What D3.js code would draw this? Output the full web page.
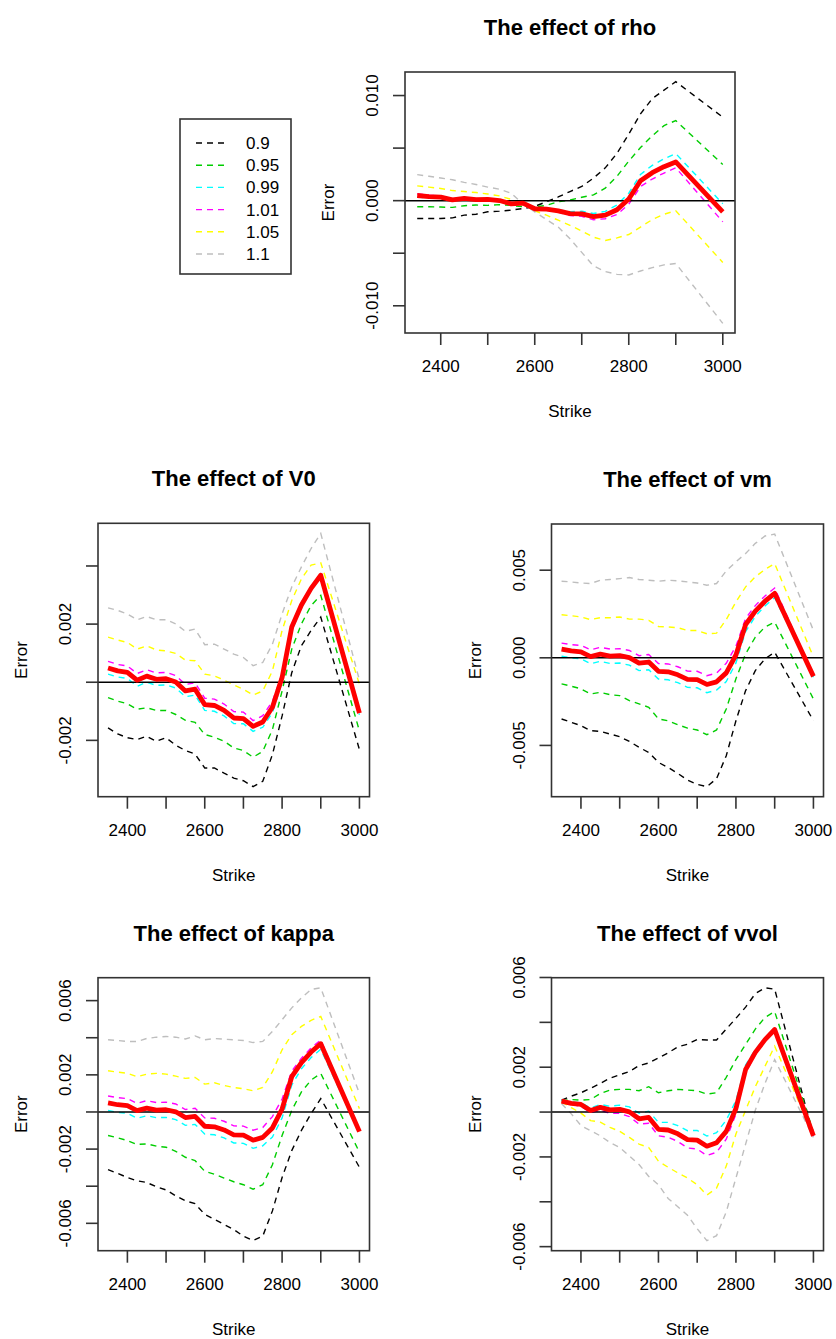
<!DOCTYPE html>
<html>
<head>
<meta charset="utf-8">
<script src="https://cdn.jsdelivr.net/npm/d3@7"></script>
<style>
  html, body { margin: 0; padding: 0; background: #ffffff; }
  svg { display: block; }
  text { font-family: "Liberation Sans", Arial, Helvetica, sans-serif; fill: #000; }
</style>
</head>
<body>
<svg id="chart" width="836" height="1339"></svg>
<script>
// Strike grid shared by every panel
const strikes = [2350, 2375, 2400, 2425, 2450, 2475, 2500, 2525, 2550, 2575, 2600, 2625,
                 2650, 2675, 2700, 2725, 2750, 2775, 2800, 2825, 2850, 2875, 2900, 3000];

// Multipliers applied to each parameter (legend entries)
const factors = ["0.9", "0.95", "0.99", "1.01", "1.05", "1.1"];
const factorColors = ["#000000", "#00CD00", "#00FFFF", "#FF00FF", "#FFFF00", "#BEBEBE"];

// Pricing error (in units of 1e-3) with unperturbed parameters
const baseError = [0.49, 0.39, 0.34, 0.07, 0.21, 0.10, 0.12, 0.01, -0.30, -0.24, -0.77, -0.80,
                   -0.97, -1.23, -1.25, -1.52, -1.37, -0.86, 0.16, 1.90, 2.66, 3.23, 3.68, -1.06];

// Errors (1e-3) when rho is scaled by each factor
const rhoErrors = [
  [-1.70, -1.70, -1.70, -1.64, -1.38, -1.29, -1.06, -1.00, -0.90, -0.75, -0.55, -0.10, 0.35, 0.87, 1.35, 2.15, 3.12, 4.50, 6.33, 8.26, 9.71, 10.51, 11.32, 7.94],
  [-0.58, -0.58, -0.61, -0.64, -0.48, -0.42, -0.45, -0.38, -0.45, -0.58, -0.60, -0.45, -0.10, 0.06, 0.32, 0.55, 1.19, 2.32, 3.76, 5.05, 6.17, 7.14, 7.62, 3.44],
  [0.34, 0.25, 0.22, -0.04, 0.12, 0.02, 0.06, -0.04, -0.33, -0.26, -0.77, -0.74, -0.85, -1.05, -1.01, -1.22, -1.02, -0.41, 0.71, 2.50, 3.36, 3.98, 4.48, -0.30],
  [0.64, 0.53, 0.46, 0.18, 0.30, 0.18, 0.18, 0.06, -0.27, -0.22, -0.77, -0.86, -1.09, -1.41, -1.49, -1.82, -1.72, -1.31, -0.34, 1.35, 2.06, 2.63, 3.13, -2.01],
  [1.41, 1.29, 1.16, 0.96, 0.87, 0.77, 0.64, 0.45, 0.13, -0.32, -0.96, -1.38, -1.86, -2.35, -2.89, -3.47, -3.79, -3.54, -3.22, -2.51, -1.80, -1.29, -0.96, -5.88],
  [2.48, 2.32, 2.15, 1.99, 1.74, 1.54, 1.29, 1.09, 0.71, -0.32, -1.06, -1.80, -2.51, -3.63, -4.92, -6.21, -6.75, -7.01, -7.07, -6.69, -6.37, -6.11, -5.98, -11.67]
];

// Errors (1e-3) when V0 is scaled by each factor
const v0Errors = [
  [-1.57, -1.78, -1.91, -1.97, -1.86, -2.03, -1.91, -2.17, -2.35, -2.47, -2.95, -2.95, -3.13, -3.30, -3.39, -3.59, -3.41, -2.49, -1.16, 0.33, 1.26, 1.78, 2.24, -2.32],
  [-0.53, -0.65, -0.74, -0.93, -0.88, -0.97, -0.97, -1.11, -1.31, -1.38, -1.80, -1.89, -2.03, -2.26, -2.35, -2.58, -2.38, -1.63, -0.30, 1.14, 2.01, 2.64, 2.99, -1.68],
  [0.28, 0.18, 0.13, -0.14, 0.00, -0.11, -0.09, -0.20, -0.50, -0.44, -0.97, -1.00, -1.16, -1.42, -1.43, -1.69, -1.55, -1.05, 0.00, 1.78, 2.57, 3.16, 3.62, -1.12],
  [0.72, 0.61, 0.56, 0.30, 0.43, 0.32, 0.34, 0.23, -0.08, -0.02, -0.55, -0.58, -0.75, -1.01, -1.03, -1.32, -1.15, -0.66, 0.30, 2.00, 2.74, 3.29, 3.72, -1.00],
  [1.55, 1.45, 1.37, 1.14, 1.25, 1.11, 1.08, 0.99, 0.76, 0.74, 0.28, 0.22, 0.07, -0.09, -0.24, -0.44, -0.30, 0.39, 1.78, 2.81, 3.56, 4.03, 4.11, -0.07],
  [2.56, 2.47, 2.35, 2.15, 2.26, 2.15, 2.15, 2.01, 1.75, 1.83, 1.29, 1.31, 1.14, 0.97, 0.85, 0.57, 0.68, 1.31, 2.35, 3.28, 3.97, 4.60, 5.12, 0.07]
];

// Errors (1e-3) when vm is scaled by each factor
const vmErrors = [
  [-3.49, -3.68, -3.87, -4.16, -4.20, -4.35, -4.50, -4.77, -5.11, -5.40, -5.97, -6.26, -6.60, -6.98, -7.22, -7.35, -6.90, -5.59, -3.59, -1.87, -0.73, -0.06, 0.32, -3.59],
  [-1.49, -1.62, -1.77, -2.06, -1.97, -2.10, -2.16, -2.44, -2.63, -2.82, -3.49, -3.59, -3.82, -4.01, -4.12, -4.39, -4.12, -2.92, -1.20, 0.23, 1.18, 1.76, 2.04, -2.35],
  [0.09, -0.01, -0.06, -0.34, -0.20, -0.32, -0.30, -0.42, -0.73, -0.68, -1.21, -1.25, -1.42, -1.69, -1.71, -1.99, -1.84, -1.36, -0.29, 1.50, 2.36, 2.96, 3.43, -1.11],
  [0.84, 0.75, 0.71, 0.45, 0.60, 0.50, 0.52, 0.42, 0.12, 0.19, -0.33, -0.35, -0.51, -0.76, -0.77, -1.02, -0.87, -0.31, 0.66, 2.25, 2.98, 3.53, 3.98, -1.01],
  [2.46, 2.40, 2.33, 2.18, 2.29, 2.29, 2.33, 2.21, 2.21, 2.14, 1.79, 1.76, 1.72, 1.56, 1.56, 1.37, 1.41, 2.18, 3.19, 4.05, 4.62, 5.04, 5.38, 0.04],
  [4.37, 4.33, 4.27, 4.24, 4.43, 4.47, 4.52, 4.58, 4.47, 4.43, 4.37, 4.43, 4.39, 4.33, 4.27, 4.14, 4.24, 4.96, 5.48, 5.95, 6.53, 6.95, 7.06, 1.56]
];

// Errors (1e-3) when kappa is scaled by each factor
const kappaErrors = [
  [-3.11, -3.31, -3.53, -3.71, -3.80, -4.03, -4.20, -4.52, -4.79, -4.94, -5.52, -5.79, -6.06, -6.33, -6.69, -6.93, -6.69, -5.33, -3.53, -2.08, -0.99, -0.09, 0.72, -2.98],
  [-1.27, -1.39, -1.54, -1.75, -1.72, -1.84, -1.90, -2.12, -2.44, -2.62, -3.20, -3.35, -3.56, -3.76, -3.92, -4.16, -3.92, -2.84, -1.27, 0.09, 1.08, 1.72, 2.08, -2.17],
  [0.08, -0.02, -0.07, -0.34, -0.20, -0.31, -0.29, -0.41, -0.72, -0.67, -1.19, -1.23, -1.40, -1.67, -1.69, -1.96, -1.82, -1.35, -0.32, 1.45, 2.33, 2.93, 3.38, -1.12],
  [0.86, 0.77, 0.72, 0.46, 0.61, 0.51, 0.53, 0.43, 0.13, 0.20, -0.32, -0.34, -0.50, -0.75, -0.76, -0.98, -0.84, -0.25, 0.70, 2.20, 2.90, 3.45, 3.88, -1.00],
  [2.22, 2.15, 2.08, 1.90, 2.04, 2.08, 2.04, 1.93, 1.81, 1.86, 1.50, 1.57, 1.43, 1.32, 1.25, 1.14, 1.32, 2.17, 3.35, 4.16, 4.61, 4.94, 5.15, 0.18],
  [3.89, 3.85, 3.80, 3.80, 3.96, 4.03, 4.07, 4.03, 3.93, 4.10, 3.89, 3.96, 3.92, 3.89, 3.85, 3.74, 3.80, 4.34, 4.97, 5.61, 6.15, 6.60, 6.69, 0.99]
];

// Errors (1e-3) when vvol is scaled by each factor
const vvolErrors = [
  [0.53, 0.71, 0.86, 1.06, 1.28, 1.51, 1.66, 1.81, 2.07, 2.19, 2.41, 2.64, 2.91, 3.02, 3.24, 3.21, 3.21, 3.70, 4.18, 4.68, 5.28, 5.54, 5.48, -1.06],
  [0.50, 0.56, 0.53, 0.56, 0.83, 0.98, 1.01, 1.01, 0.95, 1.13, 0.86, 0.95, 1.01, 0.98, 0.95, 0.80, 0.86, 1.55, 2.34, 3.02, 3.70, 4.22, 4.48, -0.90],
  [0.51, 0.44, 0.42, 0.18, 0.34, 0.26, 0.31, 0.23, -0.05, 0.04, -0.46, -0.46, -0.60, -0.83, -0.82, -1.07, -0.92, -0.36, 0.51, 2.10, 2.78, 3.31, 3.73, -1.06],
  [0.47, 0.34, 0.26, -0.03, 0.08, -0.06, -0.06, -0.20, -0.54, -0.50, -1.06, -1.12, -1.31, -1.60, -1.65, -1.94, -1.79, -1.21, -0.09, 1.75, 2.56, 3.17, 3.64, -1.08],
  [0.45, 0.20, -0.05, -0.38, -0.45, -0.68, -0.86, -1.13, -1.43, -1.58, -2.19, -2.46, -2.71, -2.94, -3.24, -3.70, -3.39, -2.41, -0.98, 0.08, 1.13, 2.04, 2.94, -1.06],
  [0.38, -0.08, -0.60, -0.83, -1.06, -1.36, -1.58, -1.96, -2.34, -2.87, -3.24, -3.85, -4.22, -4.60, -5.20, -5.73, -5.51, -4.45, -2.94, -1.43, 0.08, 1.28, 2.34, -1.13]
];

// Axis ticks and the labels printed next to them
const xTicks = [2400, 2500, 2600, 2700, 2800, 2900, 3000];
const xTickLabels = ["2400", "", "2600", "", "2800", "", "3000"];
const rhoTicks = [-0.010, -0.005, 0, 0.005, 0.010];
const rhoTickLabels = ["-0.010", "", "0.000", "", "0.010"];
const v0Ticks = [-0.002, 0, 0.002, 0.004];
const v0TickLabels = ["-0.002", "", "0.002", ""];
const vmTicks = [-0.005, 0, 0.005];
const vmTickLabels = ["-0.005", "0.000", "0.005"];
const kappaTicks = [-0.006, -0.004, -0.002, 0, 0.002, 0.004, 0.006];
const kappaTickLabels = ["-0.006", "", "-0.002", "", "0.002", "", "0.006"];
const vvolTicks = [-0.006, -0.004, -0.002, 0, 0.002, 0.004, 0.006];
const vvolTickLabels = ["-0.006", "", "-0.002", "", "0.002", "", "0.006"];

const UNIT = 1e-3;

// Plot-region placement for each panel (left, top, right, bottom)
const panels = [
  { title: "The effect of rho",   box: [405, 72, 735, 333],          series: rhoErrors,   ticks: rhoTicks,   labels: rhoTickLabels },
  { title: "The effect of V0",    box: [98, 523.3, 369.5, 796.7],    series: v0Errors,    ticks: v0Ticks,    labels: v0TickLabels },
  { title: "The effect of vm",    box: [551.5, 524, 823.5, 796.7],   series: vmErrors,    ticks: vmTicks,    labels: vmTickLabels },
  { title: "The effect of kappa", box: [98, 977.7, 369.5, 1250.7],   series: kappaErrors, ticks: kappaTicks, labels: kappaTickLabels },
  { title: "The effect of vvol",  box: [551.5, 977.7, 823.5, 1250.7], series: vvolErrors, ticks: vvolTicks,  labels: vvolTickLabels }
];

const svg = d3.select("#chart");
const AXIS_FONT = 17;
const TITLE_FONT = 22;
const TICK_LEN = 12;
const DASH = "6,5";

// R-style range padding (4% on each side)
function padded(extent) {
  const span = extent[1] - extent[0];
  return [extent[0] - 0.04 * span, extent[1] + 0.04 * span];
}

const xDomain = padded(d3.extent(strikes));

panels.forEach(p => {
  const [l, t, r, b] = p.box;
  const g = svg.append("g");

  const allValues = p.series.flat().concat(baseError).map(v => v * UNIT);
  const x = d3.scaleLinear().domain(xDomain).range([l, r]);
  const y = d3.scaleLinear().domain(padded(d3.extent(allValues))).range([b, t]);

  const line = d3.line()
    .x((d, i) => x(strikes[i]))
    .y(d => y(d * UNIT));

  // perturbed-parameter curves
  p.series.forEach((vals, k) => {
    g.append("path")
      .attr("d", line(vals))
      .attr("fill", "none")
      .attr("stroke", factorColors[k])
      .attr("stroke-width", 1.4)
      .attr("stroke-dasharray", DASH);
  });

  // zero reference line
  g.append("line")
    .attr("x1", l).attr("x2", r)
    .attr("y1", y(0)).attr("y2", y(0))
    .attr("stroke", "#000").attr("stroke-width", 1.5);

  // baseline curve
  g.append("path")
    .attr("d", line(baseError))
    .attr("fill", "none")
    .attr("stroke", "#FF0000")
    .attr("stroke-width", 4.8)
    .attr("stroke-linejoin", "round");

  // plot frame
  g.append("rect")
    .attr("x", l).attr("y", t)
    .attr("width", r - l).attr("height", b - t)
    .attr("fill", "none").attr("stroke", "#333").attr("stroke-width", 1.6);

  // x axis ticks + labels
  xTicks.forEach((v, i) => {
    g.append("line")
      .attr("x1", x(v)).attr("x2", x(v))
      .attr("y1", b).attr("y2", b + TICK_LEN)
      .attr("stroke", "#333").attr("stroke-width", 1.6);
    if (xTickLabels[i]) {
      g.append("text")
        .attr("x", x(v)).attr("y", b + 39)
        .attr("text-anchor", "middle")
        .attr("font-size", AXIS_FONT)
        .text(xTickLabels[i]);
    }
  });

  // y axis ticks + rotated labels
  p.ticks.forEach((v, i) => {
    g.append("line")
      .attr("x1", l - TICK_LEN).attr("x2", l)
      .attr("y1", y(v)).attr("y2", y(v))
      .attr("stroke", "#333").attr("stroke-width", 1.6);
    if (p.labels[i]) {
      g.append("text")
        .attr("transform", `translate(${l - 27},${y(v)}) rotate(-90)`)
        .attr("text-anchor", "middle")
        .attr("font-size", AXIS_FONT)
        .text(p.labels[i]);
    }
  });

  // axis titles
  g.append("text")
    .attr("x", (l + r) / 2).attr("y", b + 84)
    .attr("text-anchor", "middle")
    .attr("font-size", AXIS_FONT)
    .text("Strike");
  g.append("text")
    .attr("transform", `translate(${l - 71},${(t + b) / 2}) rotate(-90)`)
    .attr("text-anchor", "middle")
    .attr("font-size", AXIS_FONT)
    .text("Error");

  // panel title
  g.append("text")
    .attr("x", (l + r) / 2).attr("y", t - 37)
    .attr("text-anchor", "middle")
    .attr("font-size", TITLE_FONT)
    .attr("font-weight", "bold")
    .text(p.title);
});

// Legend for the scaling factors
const legend = svg.append("g");
legend.append("rect")
  .attr("x", 180).attr("y", 119)
  .attr("width", 111).attr("height", 155)
  .attr("fill", "#fff").attr("stroke", "#333").attr("stroke-width", 1.6);
factors.forEach((f, i) => {
  const cy = 143 + i * 22.2;
  legend.append("line")
    .attr("x1", 196).attr("x2", 227)
    .attr("y1", cy).attr("y2", cy)
    .attr("stroke", factorColors[i])
    .attr("stroke-width", 1.4)
    .attr("stroke-dasharray", DASH);
  legend.append("text")
    .attr("x", 246).attr("y", cy + 6)
    .attr("font-size", AXIS_FONT)
    .text(f);
});
</script>
</body>
</html>
